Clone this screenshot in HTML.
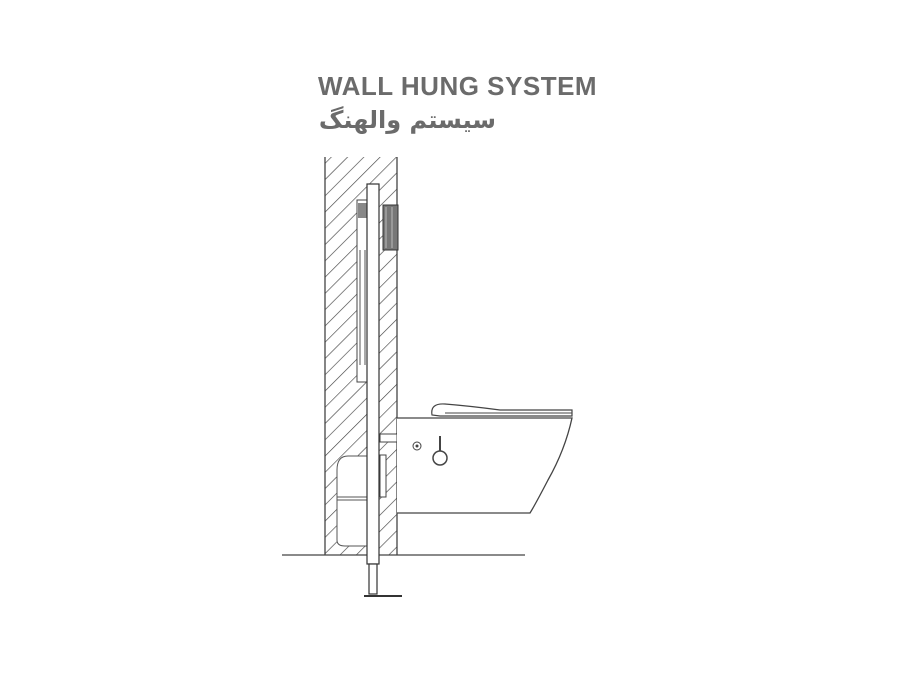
<!DOCTYPE html>
<html><head><meta charset="utf-8"><style>
html,body{margin:0;padding:0;background:#fff;width:900px;height:679px;overflow:hidden}
.t{position:absolute;left:318px;top:71px;font-family:"Liberation Sans",sans-serif;font-weight:bold;font-size:26px;color:#6b6b6b;letter-spacing:0.5px;white-space:nowrap}
.a{position:absolute;left:300px;top:106px;width:196px;text-align:right;font-family:"DejaVu Sans",sans-serif;font-weight:bold;font-size:24px;color:#6b6b6b;direction:rtl;white-space:nowrap}
</style></head><body>
<div class="t">WALL HUNG SYSTEM</div>
<div class="a">سیستم والهنگ</div>
<svg width="900" height="679" style="position:absolute;left:0;top:0" xmlns="http://www.w3.org/2000/svg">
<defs>
<pattern id="h" patternUnits="userSpaceOnUse" width="11.5" height="11.5" patternTransform="rotate(45)">
<line x1="0" y1="0" x2="0" y2="11.5" stroke="#444" stroke-width="1.3"/>
</pattern>
</defs>
<rect x="325" y="157" width="72" height="398" fill="url(#h)"/>
<line x1="325" y1="157" x2="325" y2="555" stroke="#444" stroke-width="1.3"/>
<line x1="397" y1="157" x2="397" y2="555" stroke="#444" stroke-width="1.3"/>
<line x1="282" y1="555" x2="525" y2="555" stroke="#444" stroke-width="1.3"/>
<rect x="357" y="200" width="11" height="182" fill="#fff" stroke="#444" stroke-width="1"/>
<line x1="360" y1="250" x2="360" y2="365" stroke="#555"/><line x1="365" y1="250" x2="365" y2="365" stroke="#555"/>
<rect x="358" y="203" width="9" height="15" fill="#888"/>
<rect x="383" y="205" width="15" height="45" fill="#777" stroke="#333"/>
<line x1="386" y1="207" x2="386" y2="248" stroke="#bbb"/><line x1="392" y1="207" x2="392" y2="248" stroke="#bbb"/>
<path d="M368 456 L348 456 Q337 456 337 470 L337 540 Q337 546 345 546 L368 546" fill="#fff" stroke="#555"/>
<line x1="337" y1="497" x2="368" y2="497" stroke="#555"/>
<line x1="337" y1="500" x2="368" y2="500" stroke="#555"/>
<rect x="380" y="434" width="17" height="8" fill="#fff" stroke="#444"/>
<rect x="380" y="455" width="6" height="42" fill="#fff" stroke="#444"/>
<rect x="367" y="184" width="12" height="380" fill="#fff" stroke="#333" stroke-width="1.2"/>
<rect x="369" y="564" width="8" height="30" fill="#fff" stroke="#333" stroke-width="1.2"/>
<line x1="364" y1="596" x2="402" y2="596" stroke="#333" stroke-width="2"/>
<path d="M397 418 L572 418 Q565 450 548 480 Q535 505 530 513 L397 513" fill="#fff" stroke="#444" stroke-width="1.3"/>
<path d="M432 415 Q430 403 445 404 Q470 406 500 410 L572 410 L572 416 L440 416 Z" fill="#fff" stroke="#444" stroke-width="1.2"/>
<line x1="445" y1="413" x2="572" y2="413" stroke="#444"/>
<circle cx="417" cy="446" r="4" fill="none" stroke="#444"/><circle cx="417" cy="446" r="1.5" fill="#444"/>
<line x1="440" y1="436" x2="440" y2="452" stroke="#444" stroke-width="2"/>
<circle cx="440" cy="458" r="7" fill="#fff" stroke="#444" stroke-width="1.5"/>
</svg>
</body></html>
